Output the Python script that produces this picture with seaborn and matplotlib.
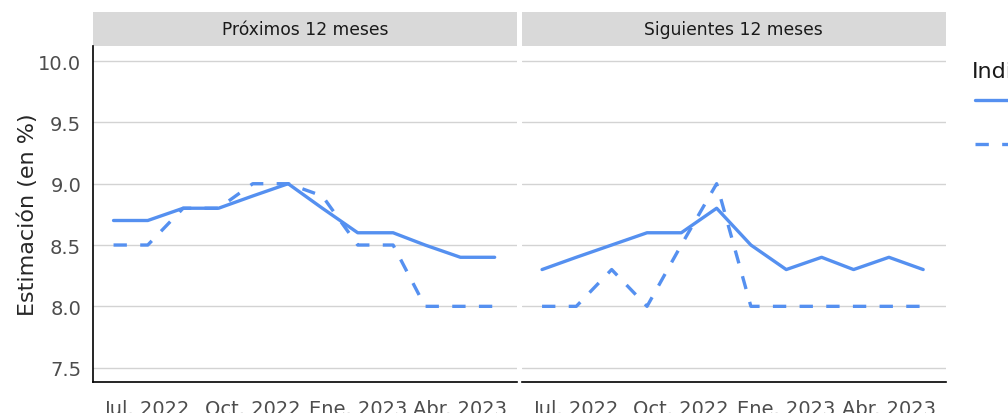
import pandas as pd
import numpy as np
import matplotlib
matplotlib.use('Agg')
import matplotlib.pyplot as plt
from matplotlib.patches import Rectangle
import seaborn as sns

# datos (estimaciones mensuales, en %)
meses = pd.date_range('2022-06-01', periods=12, freq='MS')
paneles = ['Próximos 12 meses', 'Siguientes 12 meses']
indicadores = ['Media', 'Mediana']
prox_media = [8.7, 8.7, 8.8, 8.8, 8.9, 9.0, 8.8, 8.6, 8.6, 8.5, 8.4, 8.4]
prox_mediana = [8.5, 8.5, 8.8, 8.8, 9.0, 9.0, 8.9, 8.5, 8.5, 8.0, 8.0, 8.0]
sig_media = [8.3, 8.4, 8.5, 8.6, 8.6, 8.8, 8.5, 8.3, 8.4, 8.3, 8.4, 8.3]
sig_mediana = [8.0, 8.0, 8.3, 8.0, 8.5, 9.0, 8.0, 8.0, 8.0, 8.0, 8.0, 8.0]
tick_fechas = pd.to_datetime(['2022-07-01', '2022-10-01', '2023-01-01', '2023-04-01'])
tick_labels = ['Jul. 2022', 'Oct. 2022', 'Ene. 2023', 'Abr. 2023']

series = {
    (paneles[0], indicadores[0]): prox_media,
    (paneles[0], indicadores[1]): prox_mediana,
    (paneles[1], indicadores[0]): sig_media,
    (paneles[1], indicadores[1]): sig_mediana,
}
df = pd.concat([pd.DataFrame({'fecha': meses, 'valor': v, 'panel': p, 'Indicador': i})
                for (p, i), v in series.items()], ignore_index=True)

azul = '#5590F0'
sns.set_style('white')
plt.rcParams['font.family'] = ['DejaVu Sans']

fig, axes = plt.subplots(1, 2, figsize=(10.08, 4.14), dpi=100, sharey=True)
fig.subplots_adjust(left=93/1008, right=946/1008, bottom=1-383/414, top=1-47/414, wspace=0.0095)

for k, (ax, p) in enumerate(zip(axes, paneles)):
    sub = df[df['panel'] == p]
    sns.lineplot(data=sub, x='fecha', y='valor', style='Indicador', style_order=indicadores,
                 dashes=[(None, None), (4, 4)], color=azul, linewidth=2.4, ax=ax,
                 legend=(k == 0))
    ax.set_ylim(7.383, 10.123)
    ax.set_xlim(meses[0] - pd.Timedelta(days=18), meses[-1] + pd.Timedelta(days=20))
    ax.set_yticks([7.5, 8.0, 8.5, 9.0, 9.5, 10.0])
    ax.set_yticklabels(['7.5', '8.0', '8.5', '9.0', '9.5', '10.0'])
    ax.set_xticks(tick_fechas)
    ax.set_xticklabels(tick_labels)
    ax.grid(axis='y', color='#D3D3D3', linewidth=1)
    ax.grid(axis='x', visible=False)
    ax.set_axisbelow(True)
    ax.tick_params(axis='x', colors='#4D4D4D', labelsize=14, length=5, width=1, direction='out', pad=7)
    ax.tick_params(axis='x', color='#333333')
    ax.tick_params(axis='y', colors='#4D4D4D', labelsize=14, length=5, width=1, direction='out')
    ax.tick_params(axis='y', color='#333333')
    ax.set_xlabel('')
    ax.set_ylabel('')
    for s in ['top', 'right']:
        ax.spines[s].set_visible(False)
    ax.spines['bottom'].set_color('black')
    ax.spines['bottom'].set_linewidth(1.2)
    if k == 0:
        ax.spines['left'].set_color('black')
        ax.spines['left'].set_linewidth(1.2)
    else:
        ax.spines['left'].set_visible(False)
        ax.tick_params(axis='y', left=False, labelleft=False)
    h = 34 / 336
    ax.add_patch(Rectangle((0, 1), 1, h, transform=ax.transAxes, clip_on=False,
                           facecolor='#D9D9D9', edgecolor='none'))
    ax.text(0.5, 1 + h / 2, p, transform=ax.transAxes, ha='center', va='center',
            fontsize=12.3, color='#1A1A1A')

axes[0].set_ylabel('Estimación (en %)', fontsize=16, labelpad=0)

handles, labels = axes[0].get_legend_handles_labels()
axes[0].get_legend().remove()
fig.text(972/1008, 1-72/414, 'Indicador', fontsize=16, va='center', ha='left', color='#1A1A1A')
fig.legend(handles, labels, loc='upper left', bbox_to_anchor=(975/1008, 1-93/414),
           frameon=False, fontsize=14, borderpad=0, borderaxespad=0,
           handlelength=2.4, labelspacing=1.25)

fig.savefig('out.png', dpi=100)
